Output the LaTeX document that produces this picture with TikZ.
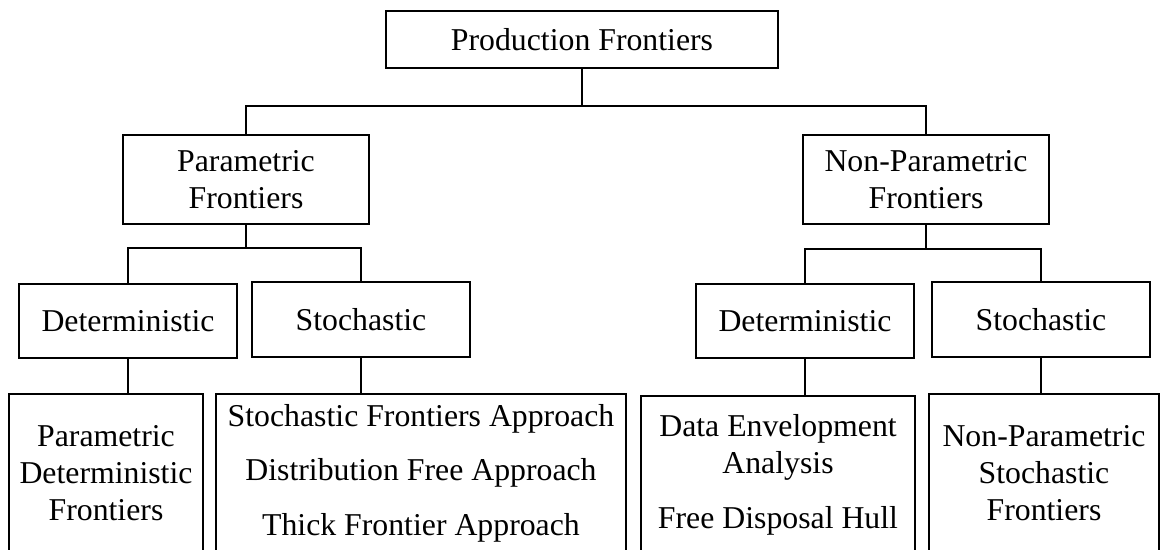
\documentclass[tikz,border=0pt]{standalone}
\usepackage{fontspec}
\setmainfont{Liberation Serif}
\begin{document}
\begin{tikzpicture}[x=0.025cm, y=-0.025cm, line width=1.2pt,
        box/.style={draw, rectangle, inner sep=0pt, align=center,
            font=\fontsize{22.6}{26.3}\selectfont},
        link/.style={line width=1.2pt}]
        \clip (0,0) rectangle (1160,549);

        % === Livello 0: radice ===
        \node[box, minimum width=9.8cm, minimum height=1.425cm] (prod) at (582, 39.5) {Production Frontiers};

        % === Livello 1 ===
        \node[box, minimum width=6.15cm, minimum height=2.225cm] (param) at (246, 179.5) {Parametric\\Frontiers};
        \node[box, minimum width=6.15cm, minimum height=2.225cm] (nonparam) at (926, 179.5) {Non-Parametric\\Frontiers};

        % === Livello 2 ===
        \node[box, minimum width=5.45cm, minimum height=1.85cm] (detP) at (128, 321) {Deterministic};
        \node[box, minimum width=5.45cm, minimum height=1.875cm] (stoP) at (361, 319.5) {Stochastic};
        \node[box, minimum width=5.45cm, minimum height=1.85cm] (detN) at (805, 321) {Deterministic};
        \node[box, minimum width=5.45cm, minimum height=1.875cm] (stoN) at (1041, 319.5) {Stochastic};

        % === Livello 3: metodi ===
        \node[box, minimum width=4.85cm, minimum height=3.95cm] (pdf) at (106, 473) {Parametric\\Deterministic\\Frontiers};
        \node[box, minimum width=10.25cm, minimum height=3.95cm] (sfa) at (421, 473) {Stochastic Frontiers Approach\\[12.4pt]Distribution Free Approach\\[12.4pt]Thick Frontier Approach};
        \node[box, minimum width=6.85cm, minimum height=3.95cm] (dea) at (778, 475) {Data Envelopment\\Analysis\\[12.9pt]Free Disposal Hull};
        \node[box, minimum width=5.75cm, minimum height=3.95cm] (npsf) at (1044, 473) {Non-Parametric\\Stochastic\\Frontiers};

        % Collegamenti
        \coordinate (bar0) at (582, 106);
        \coordinate (barP) at (246, 248);
        \coordinate (barN) at (926, 249);
        \draw[link] (prod.south) -- (bar0);
        \draw[link] (param.north) |- (bar0) -| (nonparam.north);
        \draw[link] (param.south) -- (barP);
        \draw[link] (detP.north) |- (barP) -| (stoP.north);
        \draw[link] (nonparam.south) -- (barN);
        \draw[link] (detN.north) |- (barN) -| (stoN.north);
        \draw[link] (detP.south) -- (detP.south |- pdf.north);
        \draw[link] (stoP.south) -- (stoP.south |- sfa.north);
        \draw[link] (detN.south) -- (detN.south |- dea.north);
        \draw[link] (stoN.south) -- (stoN.south |- npsf.north);
\end{tikzpicture}
\end{document}
